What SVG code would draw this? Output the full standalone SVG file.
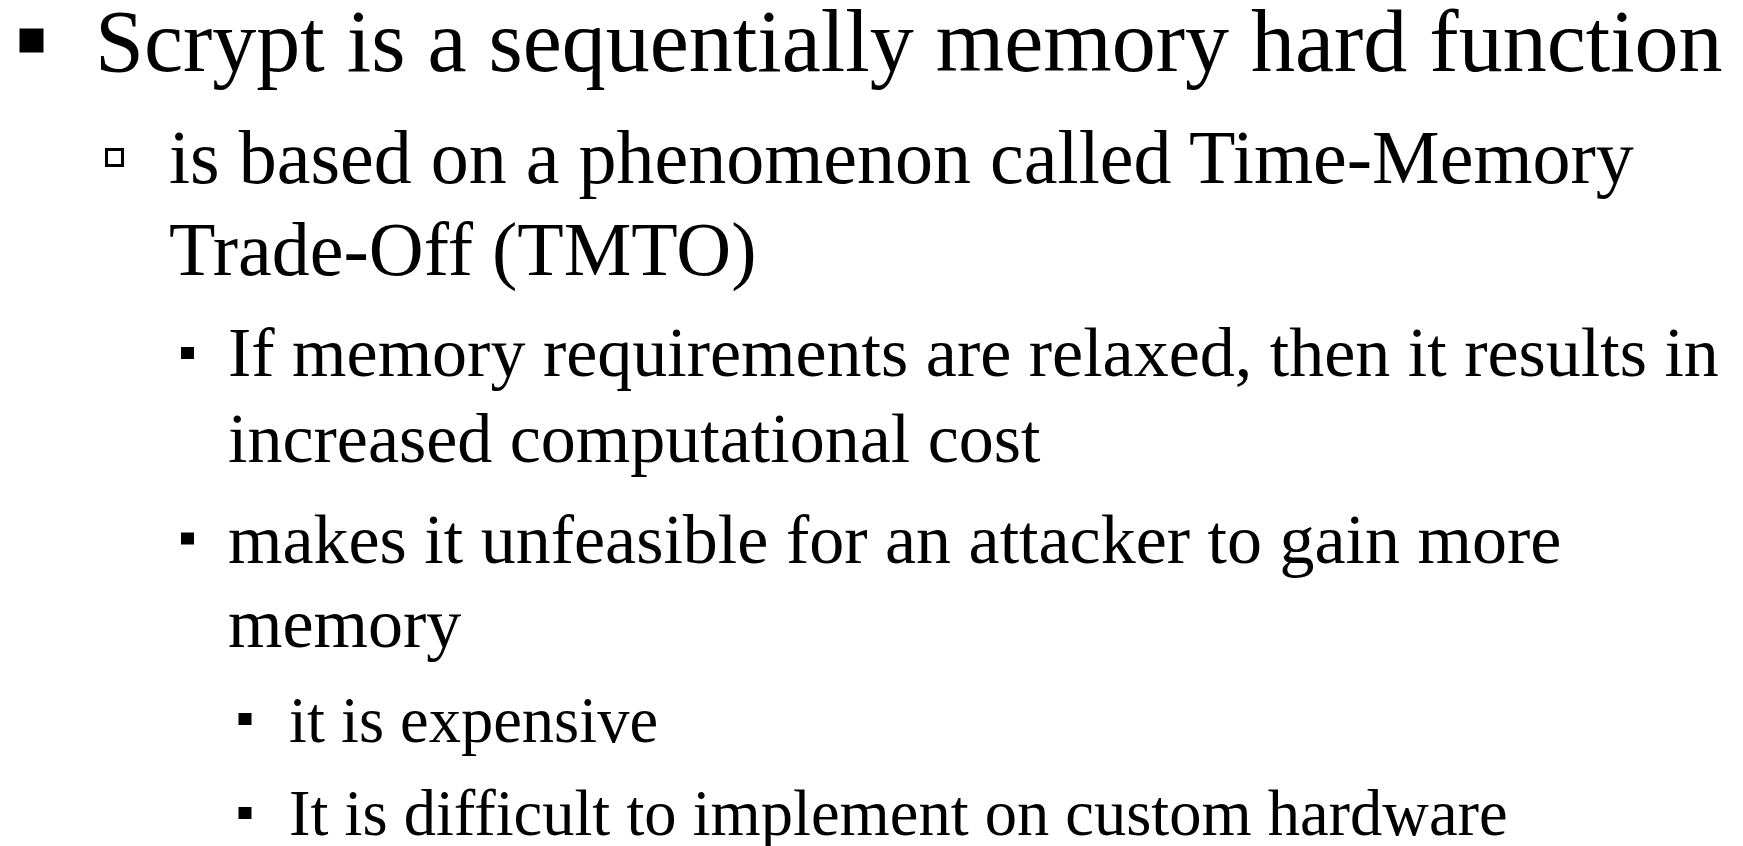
<svg xmlns="http://www.w3.org/2000/svg" width="1743" height="846" viewBox="0 0 1743 846">
<style>
text{font-family:"Liberation Serif","Times New Roman",serif;fill:#000}
.l1{font-size:88px}.l2{font-size:76px}.l3{font-size:70px}.l4{font-size:64.5px}
.b{fill:#000}.h{fill:none;stroke:#000;stroke-width:3}
</style>
<rect width="1743" height="846" fill="#fff"/>
<g id="item1"><rect class="b" x="19.5" y="28.5" width="24" height="24"/><text class="l1" x="95" y="71">Scrypt is a sequentially memory hard function</text></g>
<g id="item2"><rect class="h" x="106.5" y="149.5" width="16" height="16"/><text class="l2" x="169" y="183">is based on a phenomenon called Time-Memory</text><text class="l2" x="169" y="275">Trade-Off (TMTO)</text></g>
<g id="item3"><rect class="b" x="181" y="347" width="13" height="12"/><text class="l3" x="228" y="376">If memory requirements are relaxed, then it results in</text><text class="l3" x="228" y="462">increased computational cost</text></g>
<g id="item4"><rect class="b" x="181" y="532.5" width="13" height="12"/><text class="l3" x="228" y="563">makes it unfeasible for an attacker to gain more</text><text class="l3" x="228" y="647">memory</text></g>
<g id="item5"><rect class="b" x="238.5" y="713" width="13" height="12"/><text class="l4" x="289" y="742">it is expensive</text></g>
<g id="item6"><rect class="b" x="238.5" y="807" width="13" height="12"/><text class="l4" x="289" y="835">It is difficult to implement on custom hardware</text></g>
</svg>
